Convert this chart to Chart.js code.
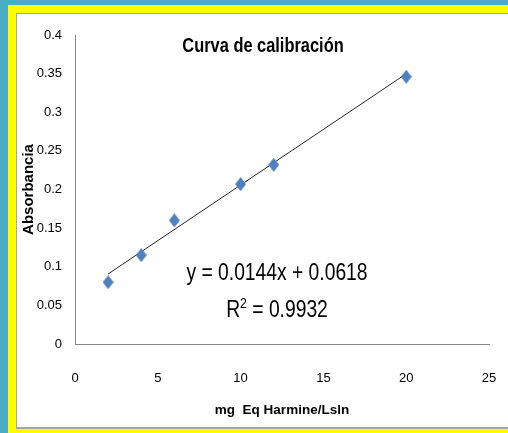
<!DOCTYPE html>
<html>
<head>
<meta charset="utf-8">
<script src="https://cdn.jsdelivr.net/npm/chart.js@4.4.0/dist/chart.umd.min.js"></script>
<style>
  body { margin: 0; background: #4bacc6; width: 508px; height: 433px; overflow: hidden; position: relative; }
  #frame { position: absolute; left: 8px; top: 5px; width: 500px; height: 428px; background: #ffff00; }
  #inner { position: absolute; left: 16px; top: 13px; width: 492px; height: 413px; background: #fff;
           border-top: 1px solid #a6a6a6; border-left: 1px solid #a6a6a6; border-bottom: 2px solid #a6a6a6; }
  #chart { position: absolute; left: 0; top: 0; }
</style>
</head>
<body>
<div id="frame"></div>
<div id="inner"></div>
<canvas id="chart" width="508" height="433"></canvas>
<script>
// concentración (mg Eq Harmine/Lsln) vs absorbancia
const concentracion = [2, 4, 6, 10, 12, 20]
const absorbancia = [0.080, 0.115, 0.160, 0.207, 0.232, 0.346]

// linear fit reported on the chart
const pendiente = 0.0144
const intercepto = 0.0618
const r2 = '0.9932'
const trendX = [2, 20]

const xTicks = [0, 5, 10, 15, 20, 25]
const yTicks = [0, 0.05, 0.1, 0.15, 0.2, 0.25, 0.3, 0.35, 0.4]

const sans = '"Liberation Sans", Arial, sans-serif'

const puntos = concentracion.map((x, i) => ({ x: x, y: absorbancia[i] }))
const tendencia = trendX.map(x => ({ x: x, y: pendiente * x + intercepto }))

// Excel style diamond, a bit taller than wide
const rombo = document.createElement('canvas')
rombo.width = 11
rombo.height = 14
const rctx = rombo.getContext('2d')
rctx.fillStyle = '#4f81bd'
rctx.beginPath()
rctx.moveTo(5.5, 0)
rctx.lineTo(11, 7)
rctx.lineTo(5.5, 14)
rctx.lineTo(0, 7)
rctx.closePath()
rctx.fill()

// condensed text, like the Calibri of the original
function textoAngosto(ctx, txt, x, y, font, align) {
    ctx.save()
    ctx.translate(x, y)
    ctx.scale(0.82, 1)
    ctx.font = font
    ctx.textAlign = align || 'center'
    ctx.fillText(txt, 0, 0)
    ctx.restore()
}

const textoGrafico = {
    id: 'textoGrafico',
    afterDraw(chart) {
        const ctx = chart.ctx
        ctx.save()
        ctx.fillStyle = '#000'
        ctx.textBaseline = 'middle'
        textoAngosto(ctx, 'Curva de calibración', 263, 46, 'bold 20px ' + sans)
        textoAngosto(ctx, 'y = ' + pendiente + 'x + ' + intercepto, 277, 274, '23.5px ' + sans)

        // R² with raised 2
        ctx.font = '23.5px ' + sans
        const wa = ctx.measureText('R').width * 0.82
        const wc = ctx.measureText(' = ' + r2).width * 0.82
        ctx.font = '15px ' + sans
        const wb = ctx.measureText('2').width * 0.82
        const x0 = 277 - (wa + wb + wc) / 2
        textoAngosto(ctx, 'R', x0, 311, '23.5px ' + sans, 'left')
        textoAngosto(ctx, '2', x0 + wa, 304, '15px ' + sans, 'left')
        textoAngosto(ctx, ' = ' + r2, x0 + wa + wb, 311, '23.5px ' + sans, 'left')
        ctx.restore()
    }
}

new Chart(document.getElementById('chart'), {
    type: 'scatter',
    data: {
        datasets: [
            {
                label: 'Absorbancia',
                data: puntos,
                pointStyle: rombo,
                pointRadius: 7,
                pointHoverRadius: 7,
                backgroundColor: '#4f81bd',
                borderColor: '#4f81bd',
                borderWidth: 0,
            },
            {
                type: 'line',
                label: 'Lineal',
                data: tendencia,
                borderColor: '#262626',
                borderWidth: 1,
                pointRadius: 0,
                fill: false,
            },
        ],
    },
    options: {
        responsive: false,
        devicePixelRatio: 1,
        animation: false,
        layout: { padding: { left: 0, top: 35, right: 19, bottom: 0 } },
        plugins: { legend: { display: false }, tooltip: { enabled: false } },
        scales: {
            x: {
                type: 'linear',
                min: 0,
                max: 25,
                afterBuildTicks: s => { s.ticks = xTicks.map(v => ({ value: v })) },
                afterFit: s => { s.height = 89 },
                grid: { display: false, drawTicks: true, tickLength: 26 },
                border: { display: true, color: '#868686', width: 1 },
                ticks: { color: '#000', padding: 1, font: { size: 13, family: sans } },
                title: {
                    display: true,
                    text: 'mg  Eq Harmine/Lsln',
                    color: '#000',
                    font: { size: 13.5, weight: 'bold', family: sans },
                    padding: { top: 0, bottom: 15 },
                },
            },
            y: {
                type: 'linear',
                min: 0,
                max: 0.4,
                afterBuildTicks: s => { s.ticks = yTicks.map(v => ({ value: v })) },
                afterFit: s => { s.width = 75 },
                grid: { display: false, drawTicks: false },
                border: { display: true, color: '#868686', width: 1 },
                ticks: { color: '#000', padding: 13, font: { size: 13, family: sans }, callback: v => String(v) },
                title: {
                    display: true,
                    text: 'Absorbancia',
                    color: '#000',
                    font: { size: 15, weight: 'bold', family: sans },
                    padding: { top: 20, bottom: 0 },
                },
            },
        },
    },
    plugins: [textoGrafico],
})
</script>
</body>
</html>
